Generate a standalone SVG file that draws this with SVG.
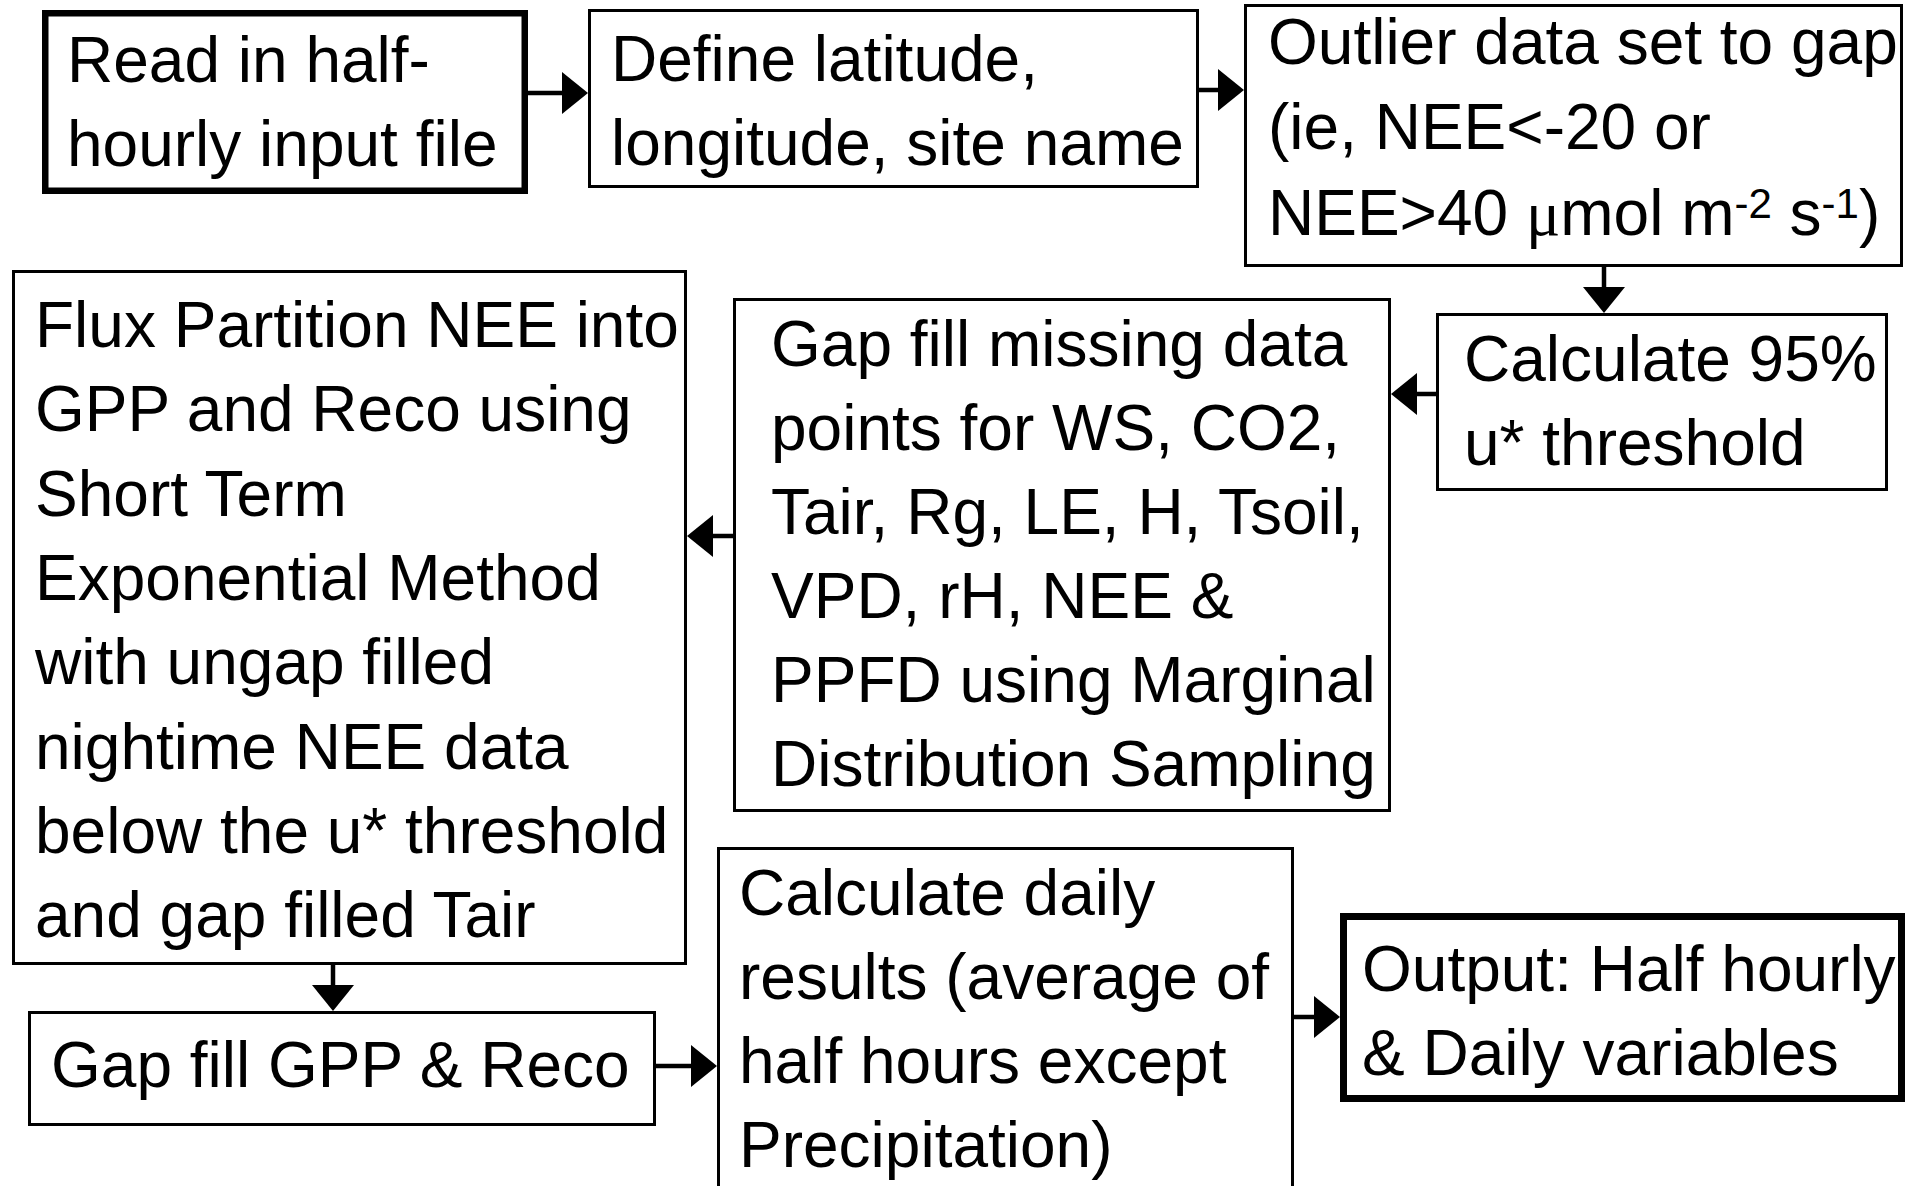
<svg xmlns="http://www.w3.org/2000/svg" width="1915" height="1186" viewBox="0 0 1915 1186">
<style>
.box{fill:#fff;stroke:#000;stroke-width:3}
.thick{stroke-width:6.5}
.lbl{font-family:"Liberation Sans",Arial,sans-serif;font-size:64px;fill:#000}
.mu{font-family:"Liberation Serif","Times New Roman",serif}
.sup{font-size:42px}
.conn{stroke:#000;stroke-width:4.5;fill:none}
</style>
<defs>
<marker id="ah" markerUnits="userSpaceOnUse" markerWidth="26" markerHeight="42" viewBox="0 0 26 42" refX="16" refY="21" orient="auto">
<path d="M0,0 L26,21 L0,42 Z" fill="#000"/>
</marker>
</defs>
<rect width="1915" height="1186" fill="#fff"/>

<g id="connectors">
<line class="conn" x1="528" y1="93" x2="578" y2="93" marker-end="url(#ah)"/>
<line class="conn" x1="1199" y1="90" x2="1234" y2="90" marker-end="url(#ah)"/>
<line class="conn" x1="1604" y1="267" x2="1604" y2="303" marker-end="url(#ah)"/>
<line class="conn" x1="1436" y1="394" x2="1401" y2="394" marker-end="url(#ah)"/>
<line class="conn" x1="733" y1="536" x2="697" y2="536" marker-end="url(#ah)"/>
<line class="conn" x1="333" y1="965" x2="333" y2="1001" marker-end="url(#ah)"/>
<line class="conn" x1="656" y1="1066" x2="707" y2="1066" marker-end="url(#ah)"/>
<line class="conn" x1="1294" y1="1017" x2="1330" y2="1017" marker-end="url(#ah)"/>
</g>

<g id="n1">
<rect class="box thick" x="45.25" y="13.25" width="479.5" height="177.5"/>
<text class="lbl"><tspan x="67" y="82">Read in half-</tspan><tspan x="67" y="166">hourly input file</tspan></text>
</g>

<g id="n2">
<rect class="box" x="589.5" y="10.5" width="608" height="176"/>
<text class="lbl"><tspan x="611" y="81">Define latitude,</tspan><tspan x="611" y="165">longitude, site name</tspan></text>
</g>

<g id="n3">
<rect class="box" x="1245.5" y="5.5" width="656" height="260"/>
<text class="lbl"><tspan x="1268" y="64">Outlier data set to gap</tspan><tspan x="1268" y="149">(ie, NEE&lt;-20 or</tspan><tspan x="1268" y="235">NEE&gt;40 </tspan><tspan class="mu">μ</tspan><tspan>mol m</tspan><tspan class="sup" dy="-17">-2</tspan><tspan dy="17"> s</tspan><tspan class="sup" dy="-17">-1</tspan><tspan dy="17">)</tspan></text>
</g>

<g id="n4">
<rect class="box" x="1437.5" y="314.5" width="449" height="175"/>
<text class="lbl"><tspan x="1464" y="381">Calculate 95%</tspan><tspan x="1464" y="465">u* threshold</tspan></text>
</g>

<g id="n5">
<rect class="box" x="734.5" y="299.5" width="655" height="511"/>
<text class="lbl"><tspan x="771" y="366">Gap fill missing data</tspan><tspan x="771" y="450">points for WS, CO2,</tspan><tspan x="771" y="534">Tair, Rg, LE, H, Tsoil,</tspan><tspan x="771" y="618">VPD, rH, NEE &amp;</tspan><tspan x="771" y="702">PPFD using Marginal</tspan><tspan x="771" y="786">Distribution Sampling</tspan></text>
</g>

<g id="n6">
<rect class="box" x="13.5" y="271.5" width="672" height="692"/>
<text class="lbl"><tspan x="35" y="347">Flux Partition NEE into</tspan><tspan x="35" y="431">GPP and Reco using</tspan><tspan x="35" y="516">Short Term</tspan><tspan x="35" y="600">Exponential Method</tspan><tspan x="35" y="684">with ungap filled</tspan><tspan x="35" y="769">nightime NEE data</tspan><tspan x="35" y="853">below the u* threshold</tspan><tspan x="35" y="937">and gap filled Tair</tspan></text>
</g>

<g id="n7">
<rect class="box" x="29.5" y="1012.5" width="625" height="112"/>
<text class="lbl"><tspan x="51" y="1087">Gap fill GPP &amp; Reco</tspan></text>
</g>

<g id="n8">
<rect class="box" x="718.5" y="848.5" width="574" height="400"/>
<text class="lbl"><tspan x="739" y="915">Calculate daily</tspan><tspan x="739" y="999">results (average of</tspan><tspan x="739" y="1083">half hours except</tspan><tspan x="739" y="1167">Precipitation)</tspan></text>
</g>

<g id="n9">
<rect class="box" x="1343.5" y="916.5" width="558" height="182" style="stroke-width:7"/>
<text class="lbl"><tspan x="1362" y="991">Output: Half hourly</tspan><tspan x="1362" y="1075">&amp; Daily variables</tspan></text>
</g>
</svg>
